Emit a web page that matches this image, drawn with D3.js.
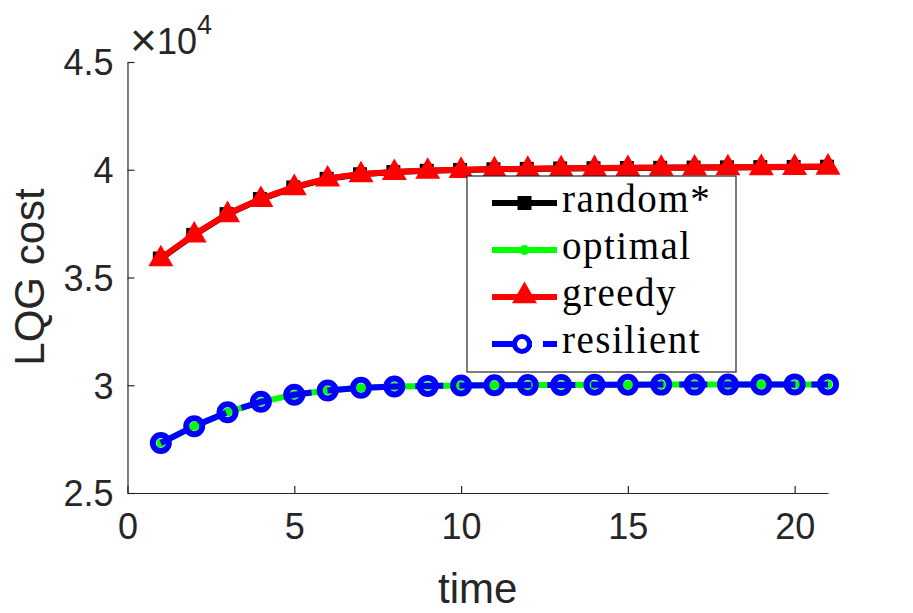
<!DOCTYPE html>
<html lang="en">
<head>
  <meta charset="UTF-8">
  <title>LQG cost</title>
  <style>
    body { margin: 0; background: #fff; }
  </style>
</head>
<body>
  <svg></svg>
  <script src="https://cdn.jsdelivr.net/npm/d3@7"></script>
  <script>
    // values
    let time = d3.range(1, 22)
    let randomCost = [35880, 36980, 37940, 38640, 39180, 39580, 39790, 39890, 39950, 39990, 40020, 40040, 40060, 40070, 40080, 40090, 40100, 40110, 40120, 40130, 40140]
    let greedyCost = [35900, 37000, 37950, 38650, 39200, 39600, 39800, 39900, 39960, 40000, 40030, 40050, 40070, 40080, 40090, 40100, 40110, 40120, 40130, 40140, 40150]
    let optimalCost = [27320, 28100, 28750, 29230, 29560, 29760, 29880, 29940, 29970, 29990, 30000, 30010, 30015, 30020, 30025, 30030, 30030, 30035, 30035, 30040, 30040]
    let resilientCost = [27320, 28100, 28750, 29230, 29560, 29760, 29880, 29940, 29970, 29990, 30000, 30010, 30015, 30020, 30025, 30030, 30030, 30035, 30035, 30040, 30040]
    let xTicks = [0, 5, 10, 15, 20]
    let yTicks = [25000, 30000, 35000, 40000, 45000]
    let legendNames = ['random*', 'optimal', 'greedy', 'resilient']

    let svgWidth = 913, svgHeight = 613
    let axisColor = '#262626'
    let svg = d3.select('svg')
      .attr('width', svgWidth)
      .attr('height', svgHeight)

    let x = d3.scaleLinear().domain([0, 21]).range([127.5, 828])
    let y = d3.scaleLinear().domain([25000, 45000]).range([493, 62])

    // axes (MATLAB style: ticks inside, box off)
    let xAxis = d3.axisBottom(x).tickValues(xTicks).tickSizeInner(-7).tickSizeOuter(0).tickPadding(20)
    let yAxis = d3.axisLeft(y).tickValues(yTicks).tickSizeInner(-7).tickSizeOuter(0).tickPadding(14)
      .tickFormat(d => d / 10000)

    let gx = svg.append('g').attr('transform', `translate(0,${y.range()[0]})`).call(xAxis)
    let gy = svg.append('g').attr('transform', `translate(${x.range()[0]},0)`).call(yAxis)
    for (let g of [gx, gy]) {
      g.selectAll('path').attr('stroke', axisColor).attr('stroke-width', 1.2)
      g.selectAll('line').attr('stroke', axisColor).attr('stroke-width', 1.2)
      g.selectAll('text')
        .attr('fill', axisColor)
        .style('font-family', '"Liberation Sans", Arial, sans-serif')
        .style('font-size', '36px')
    }
    gx.selectAll('text').attr('dy', '0.71em')
    gy.selectAll('text').attr('dy', '0.36em')

    // exponent label
    let expo = svg.append('text')
      .attr('x', 130).attr('y', 54)
      .attr('fill', axisColor)
      .style('font-family', '"Liberation Sans", Arial, sans-serif')
      .style('font-size', '36px')
    expo.append('tspan').style('font-size', '46px').attr('dy', 2).text('\u00d7')
    expo.append('tspan').attr('dy', -2).text('10')
    expo.append('tspan').attr('dy', -20).style('font-size', '27px').text('4')

    // axis titles
    svg.append('text')
      .attr('x', (x.range()[0] + x.range()[1]) / 2)
      .attr('y', 603)
      .attr('text-anchor', 'middle')
      .attr('fill', axisColor)
      .style('font-family', '"Liberation Sans", Arial, sans-serif')
      .style('font-size', '42px')
      .text('time')

    svg.append('text')
      .attr('transform', 'translate(44,277) rotate(-90)')
      .attr('text-anchor', 'middle')
      .attr('fill', axisColor)
      .style('font-family', '"Liberation Sans", Arial, sans-serif')
      .style('font-size', '42px')
      .text('LQG cost')

    let line = d3.line().x(d => x(d[0])).y(d => y(d[1]))
    let pts = vals => time.map((t, i) => [t, vals[i]])

    let tri = d3.symbol().type(d3.symbolTriangle).size(270)

    // random*: black squares
    let gRand = svg.append('g')
    gRand.append('path').attr('d', line(pts(randomCost)))
      .attr('fill', 'none').attr('stroke', 'black').attr('stroke-width', 6)
    gRand.selectAll('rect').data(pts(randomCost)).enter().append('rect')
      .attr('x', d => x(d[0]) - 8).attr('y', d => y(d[1]) - 7)
      .attr('width', 14).attr('height', 14).attr('fill', 'black')

    // optimal: green dots
    let gOpt = svg.append('g')
    gOpt.append('path').attr('d', line(pts(optimalCost)))
      .attr('fill', 'none').attr('stroke', '#00ff00').attr('stroke-width', 6)
    gOpt.selectAll('circle').data(pts(optimalCost)).enter().append('circle')
      .attr('cx', d => x(d[0])).attr('cy', d => y(d[1])).attr('r', 4.5).attr('fill', '#00ff00')

    // greedy: red triangles
    let gGreedy = svg.append('g')
    gGreedy.append('path').attr('d', line(pts(greedyCost)))
      .attr('fill', 'none').attr('stroke', 'red').attr('stroke-width', 6)
    gGreedy.selectAll('path.m').data(pts(greedyCost)).enter().append('path')
      .attr('class', 'm')
      .attr('d', tri)
      .attr('transform', d => `translate(${x(d[0])},${y(d[1]) + 1})`)
      .attr('fill', 'red')

    // resilient: blue dashed with open circles
    let gRes = svg.append('g')
    gRes.append('path').attr('d', line(pts(resilientCost)))
      .attr('fill', 'none').attr('stroke', 'blue').attr('stroke-width', 6)
      .attr('stroke-dasharray', '28,16')
    gRes.selectAll('circle').data(pts(resilientCost)).enter().append('circle')
      .attr('cx', d => x(d[0])).attr('cy', d => y(d[1])).attr('r', 8)
      .attr('fill', 'none').attr('stroke', 'blue').attr('stroke-width', 6)

    // legend
    let leg = svg.append('g')
    leg.append('rect')
      .attr('x', 467).attr('y', 176).attr('width', 269).attr('height', 196)
      .attr('fill', 'white').attr('stroke', axisColor).attr('stroke-width', 1.2)

    let rowY = d3.scalePoint().domain(legendNames).range([203, 344])
    let x0 = 492, x1 = 557, xm = (x0 + x1) / 2

    legendNames.forEach(name => {
      let cy = rowY(name)
      let row = leg.append('g')
      if (name === 'resilient') {
        row.append('line').attr('x1', x0).attr('x2', 532).attr('y1', cy).attr('y2', cy)
          .attr('stroke', 'blue').attr('stroke-width', 6)
        row.append('line').attr('x1', 543).attr('x2', x1).attr('y1', cy).attr('y2', cy)
          .attr('stroke', 'blue').attr('stroke-width', 6)
        row.append('circle').attr('cx', 522).attr('cy', cy).attr('r', 7.5)
          .attr('fill', 'white').attr('stroke', 'blue').attr('stroke-width', 5)
      } else {
        let color = { 'random*': 'black', 'optimal': '#00ff00', 'greedy': 'red' }[name]
        row.append('line').attr('x1', x0).attr('x2', x1).attr('y1', cy).attr('y2', cy)
          .attr('stroke', color).attr('stroke-width', 6)
        if (name === 'random*') {
          row.append('rect').attr('x', xm - 7).attr('y', cy - 7).attr('width', 14).attr('height', 14).attr('fill', 'black')
        } else if (name === 'optimal') {
          row.append('circle').attr('cx', xm).attr('cy', cy).attr('r', 5).attr('fill', color)
        } else {
          row.append('path').attr('d', tri).attr('transform', `translate(${xm},${cy - 1})`).attr('fill', 'red')
        }
      }
      row.append('text')
        .attr('x', 562).attr('y', cy + 9)
        .attr('fill', 'black')
        .style('font-family', '"Liberation Serif", "Times New Roman", serif')
        .style('font-size', '39px')
        .style('letter-spacing', '1.5px')
        .text(name)
    })
  </script>
</body>
</html>
